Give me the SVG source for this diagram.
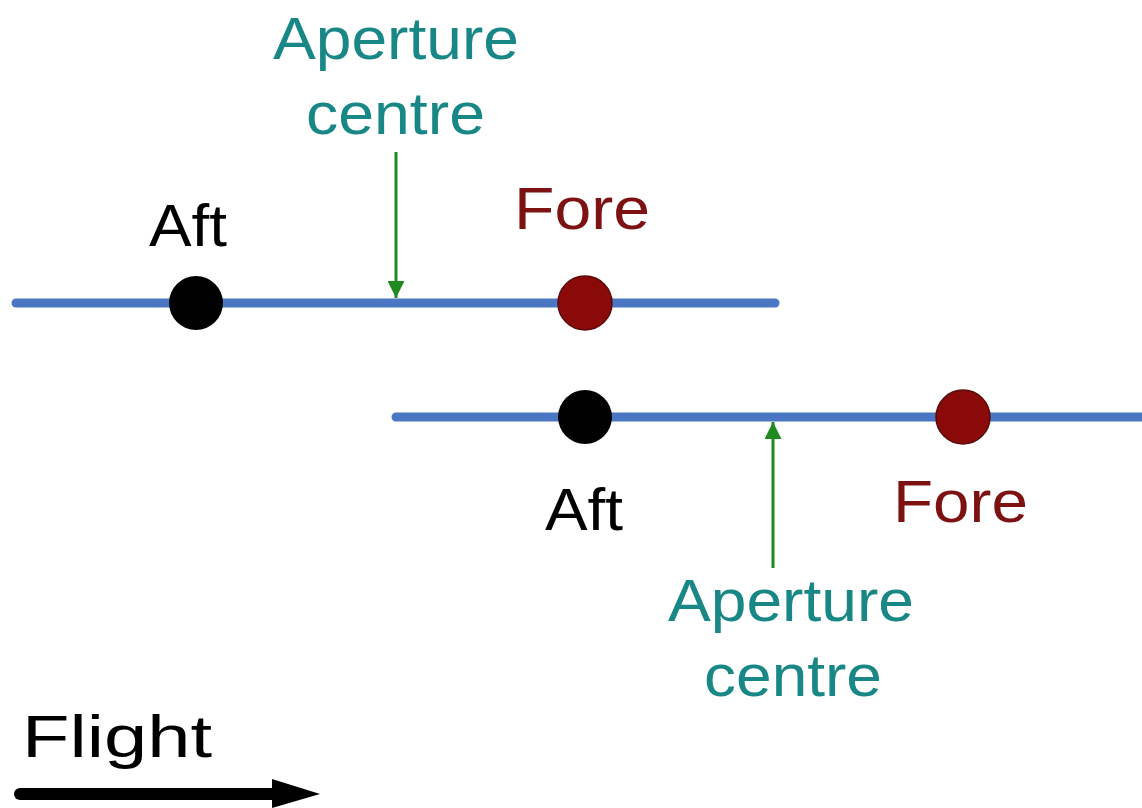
<svg xmlns="http://www.w3.org/2000/svg" width="1142" height="808" viewBox="0 0 1142 808">
  <style>
    text { font-family: "Liberation Sans", Arial, sans-serif; font-size: 60px; }
    .label-dark { fill: #000000; }
    .label-fore { fill: #7c1212; }
    .label-aperture { fill: #1a8787; }
    .track { stroke: #4a76c4; stroke-width: 9; stroke-linecap: round; fill: none; }
    .pointer { stroke: #1f8a1f; stroke-width: 3; fill: none; }
    .dot-aft { fill: #000000; }
    .dot-fore { fill: #8a0a0a; stroke: #5a0a0a; stroke-width: 1.5; }
  </style>
  <defs>
    <marker id="green-head" viewBox="0 0 10 10" refX="10" refY="5" markerUnits="userSpaceOnUse" markerWidth="18" markerHeight="17" orient="auto">
      <path d="M0,0 L10,5 L0,10 Z" fill="#1f8a1f"/>
    </marker>
  </defs>

  <rect width="1142" height="808" fill="#ffffff"/>

  <!-- flight tracks and aperture-centre pointers -->
  <g id="connectors">
    <line class="track" x1="16" y1="303" x2="775" y2="303"/>
    <line class="track" x1="396" y1="417" x2="1150" y2="417"/>
    <line class="pointer" x1="396" y1="152" x2="396" y2="298" marker-end="url(#green-head)"/>
    <line class="pointer" x1="773" y1="568" x2="773" y2="422" marker-end="url(#green-head)"/>
  </g>

  <!-- first aperture position -->
  <g id="aperture-centre-1">
    <text class="label-aperture" x="273" y="59" textLength="246" lengthAdjust="spacingAndGlyphs">Aperture</text>
    <text class="label-aperture" x="306" y="134" textLength="179" lengthAdjust="spacingAndGlyphs">centre</text>
  </g>
  <g id="aft-1">
    <circle class="dot-aft" cx="196" cy="303" r="27"/>
    <text class="label-dark" x="149" y="246" textLength="78" lengthAdjust="spacingAndGlyphs">Aft</text>
  </g>
  <g id="fore-1">
    <circle class="dot-fore" cx="585" cy="303" r="27"/>
    <text class="label-fore" x="514" y="229" textLength="136" lengthAdjust="spacingAndGlyphs">Fore</text>
  </g>

  <!-- second aperture position -->
  <g id="aft-2">
    <circle class="dot-aft" cx="585" cy="417" r="27"/>
    <text class="label-dark" x="545" y="530" textLength="78" lengthAdjust="spacingAndGlyphs">Aft</text>
  </g>
  <g id="fore-2">
    <circle class="dot-fore" cx="963" cy="417" r="27"/>
    <text class="label-fore" x="893" y="522" textLength="135" lengthAdjust="spacingAndGlyphs">Fore</text>
  </g>
  <g id="aperture-centre-2">
    <text class="label-aperture" x="668" y="621" textLength="246" lengthAdjust="spacingAndGlyphs">Aperture</text>
    <text class="label-aperture" x="704" y="696" textLength="178" lengthAdjust="spacingAndGlyphs">centre</text>
  </g>

  <!-- direction of flight -->
  <g id="flight">
    <text class="label-dark" x="22" y="757" textLength="190" lengthAdjust="spacingAndGlyphs">Flight</text>
    <line x1="20" y1="794" x2="280" y2="794" stroke="#000000" stroke-width="12" stroke-linecap="round"/>
    <path d="M272,779 L320,794 L272,808 Z" fill="#000000"/>
  </g>
</svg>
